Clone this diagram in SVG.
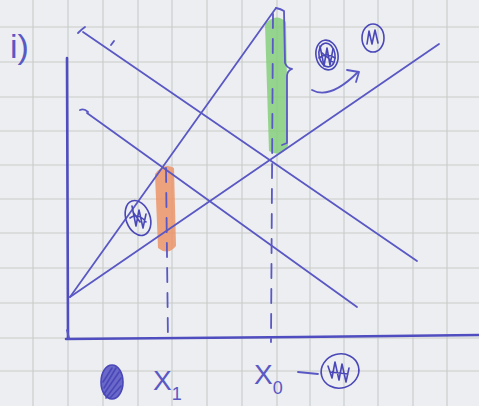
<svg xmlns="http://www.w3.org/2000/svg" width="479" height="406" viewBox="0 0 479 406">
<style>
.grid{stroke:#c8ccc8;stroke-width:1.1;fill:none}
.pen{stroke:#5a58c4;stroke-width:1.8;fill:none;stroke-linecap:round;stroke-linejoin:round}
.axis{stroke:#4f4dbf;stroke-width:2.6;fill:none;stroke-linecap:round}
.dash{stroke:#5a58c4;stroke-width:1.8;fill:none;stroke-dasharray:14 11;stroke-linecap:round}
.scr{stroke:#4a48b8;stroke-width:1.6;fill:none;stroke-linecap:round;stroke-linejoin:round}
.lbl{font-family:"Liberation Sans",Arial,sans-serif;fill:#5a58c4}
</style>
<rect width="479" height="406" fill="#eceef1"/>
<g id="grid">
<path class="grid" d="M33 0V406M68 0V406M103 0V406M138 0V406M172 0V406M207 0V406M242 0V406M277 0V406M310 0V406M344 0V406M378 0V406M413 0V406M447 0V406"/>
<path class="grid" d="M0 27H479M0 62H479M0 97H479M0 131H479M0 165H479M0 199H479M0 233H479M0 268H479M0 303H479M0 338H479M0 371H479"/>
</g>
<g id="highlights">
<path d="M155 174 Q164 162 174 168 L176 246 Q168 256 158 248 Z" fill="#eb9468" opacity="0.85"/>
<path d="M265 24 Q276 12 286 22 L288 146 Q280 158 269 151 Z" fill="#86cf7c" opacity="0.85"/>
</g>
<g id="axes">
<path class="axis" d="M67 58 L68 338"/>
<path class="axis" d="M66 339 L300 337 L479 335"/>
<path class="pen" d="M69 338 L67 330"/>
</g>
<g id="connectors">
<path class="pen" d="M70 297 L276 8"/>
<path class="pen" d="M70 297 L439 44"/>
<path class="pen" d="M83 32 L417 261"/>
<path class="pen" d="M78 33 Q82 29 85 27"/>
<path class="pen" d="M87 113 L357 307"/>
<path class="pen" d="M80 110 Q84 108 88 112"/>
<path class="pen" d="M111 45 L114 41"/>
<path class="dash" d="M166 168 L168 342"/>
<path class="dash" d="M273 14 L271 342"/>
<path class="pen" d="M276 8 Q281 9 284 11 L285 63 Q287 68 292 69 Q287 71 287 76 L287 143 L282 145"/>
<path class="pen" d="M312 90 Q330 100 358 72"/>
<path class="pen" d="M347 70 L359 72 L356 82"/>
<path class="pen" d="M298 372 L318 374"/>
</g>
<g id="label-i">
<text class="lbl" x="10" y="58" font-size="34">i)</text>
</g>
<g id="label-x1">
<text class="lbl" x="153" y="390" font-size="28">X<tspan font-size="18" dy="10">1</tspan></text>
</g>
<g id="label-x0">
<text class="lbl" x="254" y="384" font-size="28">X<tspan font-size="18" dy="10">0</tspan></text>
</g>
<g id="mark-a">
<ellipse class="scr" cx="327" cy="55" rx="11" ry="15" transform="rotate(-10 327 55)"/>
<ellipse class="scr" cx="327" cy="55" rx="8" ry="12" transform="rotate(-10 327 55)"/>
<path class="scr" d="M320 46 L324 66 L327 48 L330 65 L333 49 M319 58 Q327 52 335 58 M321 52 L333 62"/>
</g>
<g id="mark-b">
<ellipse class="scr" cx="373" cy="38" rx="11" ry="14"/>
<path class="scr" d="M367 44 L369 31 L372 44 L375 30 L378 43"/>
</g>
<g id="mark-c">
<ellipse class="scr" cx="138" cy="218" rx="12" ry="18" transform="rotate(-20 138 218)"/>
<path class="scr" d="M132 206 L136 226 L139 210 L143 228 L146 214 M130 218 Q138 212 146 222 M133 212 L140 222"/>
</g>
<g id="mark-d">
<ellipse cx="112" cy="382" rx="11" ry="17" fill="#6a68c8" stroke="#4a48b8" stroke-width="1.6"/>
<path class="scr" d="M104 388 L116 368 M104 394 L119 372 M106 398 L121 378 M110 398 L121 386 M103 382 L112 368"/>
</g>
<g id="mark-e">
<ellipse class="scr" cx="340" cy="371" rx="19" ry="17" transform="rotate(-15 340 371)"/>
<path class="scr" d="M328 366 L332 378 L335 362 L339 380 L342 364 L346 382 L349 368 M330 372 L348 374"/>
</g>
</svg>
